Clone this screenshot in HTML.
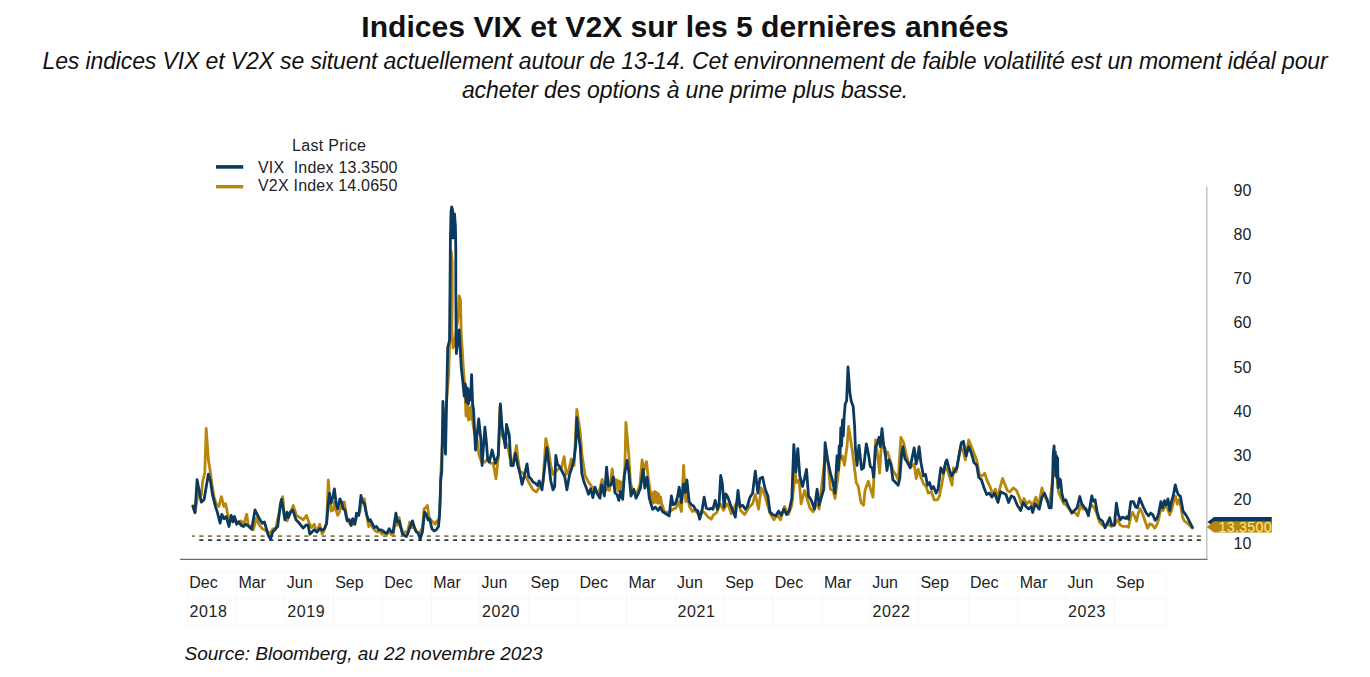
<!DOCTYPE html>
<html><head><meta charset="utf-8"><title>Indices VIX et V2X</title>
<style>
html,body{margin:0;padding:0;background:#fff;}
body{width:1370px;height:677px;position:relative;overflow:hidden;font-family:"Liberation Sans",Arial,sans-serif;color:#111;}
.t{position:absolute;white-space:nowrap;}
#title{left:0;width:1370px;text-align:center;top:8.5px;font-size:30.1px;font-weight:bold;line-height:36px;color:#111;}
.sub{left:0;width:1370px;text-align:center;font-size:23px;letter-spacing:-0.12px;font-style:italic;line-height:29px;color:#111;}
svg{position:absolute;left:0;top:0;}
svg text{font-family:"Liberation Sans",Arial,sans-serif;}
</style></head>
<body>
<div class="t" id="title">Indices VIX et V2X sur les 5 dernières années</div>
<div class="t sub" style="top:47px">Les indices VIX et V2X se situent actuellement autour de 13-14. Cet environnement de faible volatilité est un moment idéal pour</div>
<div class="t sub" style="top:76px">acheter des options à une prime plus basse.</div>
<svg width="1370" height="677" viewBox="0 0 1370 677">
  <!-- legend -->
  <text x="292" y="150.6" font-size="16" fill="#222" letter-spacing="0.3">Last Price</text>
  <line x1="216" y1="166.9" x2="243.2" y2="166.9" stroke="#0b3a5e" stroke-width="3.6"/>
  <line x1="216" y1="186.7" x2="243.2" y2="186.7" stroke="#b8860b" stroke-width="3.4"/>
  <text x="258" y="172.6" font-size="16" fill="#222" letter-spacing="0.2" xml:space="preserve" style="white-space:pre">VIX  Index 13.3500</text>
  <text x="258" y="191.2" font-size="16" fill="#222" letter-spacing="0.2">V2X Index 14.0650</text>
  <g stroke="#f7f7f7" stroke-width="1">
    <line x1="187" y1="572.5" x2="1166" y2="572.5"/>
    <line x1="187" y1="598.5" x2="1166" y2="598.5"/>
    <line x1="187" y1="625.5" x2="1166" y2="625.5"/>
    <line x1="187.4" y1="572.5" x2="187.4" y2="625.5"/>
    <line x1="236.6" y1="572.5" x2="236.6" y2="625.5"/>
    <line x1="285.0" y1="572.5" x2="285.0" y2="625.5"/>
    <line x1="333.4" y1="572.5" x2="333.4" y2="625.5"/>
    <line x1="382.5" y1="572.5" x2="382.5" y2="625.5"/>
    <line x1="431.4" y1="572.5" x2="431.4" y2="625.5"/>
    <line x1="479.8" y1="572.5" x2="479.8" y2="625.5"/>
    <line x1="528.8" y1="572.5" x2="528.8" y2="625.5"/>
    <line x1="577.7" y1="572.5" x2="577.7" y2="625.5"/>
    <line x1="626.6" y1="572.5" x2="626.6" y2="625.5"/>
    <line x1="675.2" y1="572.5" x2="675.2" y2="625.5"/>
    <line x1="723.4" y1="572.5" x2="723.4" y2="625.5"/>
    <line x1="773.0" y1="572.5" x2="773.0" y2="625.5"/>
    <line x1="822.2" y1="572.5" x2="822.2" y2="625.5"/>
    <line x1="870.4" y1="572.5" x2="870.4" y2="625.5"/>
    <line x1="918.6" y1="572.5" x2="918.6" y2="625.5"/>
    <line x1="968.2" y1="572.5" x2="968.2" y2="625.5"/>
    <line x1="1017.9" y1="572.5" x2="1017.9" y2="625.5"/>
    <line x1="1065.8" y1="572.5" x2="1065.8" y2="625.5"/>
    <line x1="1114.2" y1="572.5" x2="1114.2" y2="625.5"/>
    <line x1="1166.0" y1="572.5" x2="1166.0" y2="625.5"/>
  </g>
  <!-- axes -->
  <line x1="1206.8" y1="186.5" x2="1206.8" y2="559" stroke="#c4c4c4" stroke-width="1.5"/>
  <line x1="180" y1="559.3" x2="1207.5" y2="559.3" stroke="#6e6e6e" stroke-width="1.2"/>
  <!-- y labels -->
  <g font-size="16" fill="#222">
    <text x="1233.5" y="196">90</text>
    <text x="1233.5" y="240.2">80</text>
    <text x="1233.5" y="284.3">70</text>
    <text x="1233.5" y="328.4">60</text>
    <text x="1233.5" y="372.5">50</text>
    <text x="1233.5" y="416.6">40</text>
    <text x="1233.5" y="460.7">30</text>
    <text x="1233.5" y="504.8">20</text>
    <text x="1233.5" y="548.9">10</text>
  </g>
  <!-- dashed min lines -->
  <line x1="191.9" y1="536.1" x2="1201" y2="536.1" stroke="#8a7548" stroke-width="1.7" stroke-dasharray="4.1 4.65" stroke-dashoffset="1.35"/>
  <line x1="199.3" y1="540.1" x2="1201" y2="540.1" stroke="#2b3a49" stroke-width="1.9" stroke-dasharray="4.1 4.65"/>
  <!-- series -->
  <polyline fill="none" stroke="#b8860b" stroke-width="2.8" stroke-linejoin="round" stroke-linecap="round" points="192.9,505.7 195.0,512.0 197.5,498.0 199.5,490.0 201.3,495.2 202.7,481.1 204.8,472.7 206.2,428.5 208.4,460.1 210.5,472.7 211.9,484.0 214.0,496.6 216.1,503.6 218.9,506.4 221.4,496.6 223.8,506.4 225.6,503.6 227.3,512.0 229.5,520.9 233.4,517.6 236.7,522.0 241.2,520.9 243.4,525.4 246.7,514.3 248.4,525.4 251.1,526.5 253.3,529.8 256.7,517.6 258.9,524.3 262.2,528.7 264.4,529.8 267.7,532.0 270.0,533.1 273.3,528.7 275.5,529.8 277.1,522.0 282.7,496.6 284.3,514.3 287.1,520.9 289.9,514.3 293.2,505.4 296.5,515.4 299.8,517.6 303.2,519.8 306.5,515.4 308.7,522.0 311.5,527.6 314.2,524.3 316.5,532.0 319.8,524.3 322.2,534.2 324.4,529.8 326.6,523.2 328.3,480.0 329.4,494.4 331.1,511.0 333.3,509.9 334.4,502.1 336.1,509.9 337.7,515.4 339.4,512.1 342.1,503.2 344.4,502.1 346.6,516.5 348.8,522.0 351.0,525.4 353.2,524.3 355.4,520.9 357.6,514.3 359.9,512.1 361.5,502.1 364.3,498.8 366.5,514.3 368.7,526.5 370.4,523.2 372.6,527.6 375.4,530.9 377.6,532.0 379.8,530.9 382.0,534.2 384.2,532.0 386.4,535.3 388.7,530.9 390.9,534.2 393.1,535.3 395.9,516.5 397.5,525.4 399.2,517.6 400.8,526.5 403.1,533.1 405.3,532.0 407.5,532.0 409.7,522.0 411.9,527.6 413.6,525.4 416.4,532.0 418.6,533.1 420.2,532.0 422.4,527.6 424.1,508.8 425.8,507.6 427.4,505.4 429.1,517.6 430.7,519.8 433.0,522.0 435.2,524.3 436.8,520.9 438.5,522.0 439.6,512.1 440.7,492.1 440.5,480.0 442.5,440.0 445.0,420.0 448.7,374.6 450.0,330.0 450.6,270.0 451.3,251.5 452.2,262.0 452.2,300.0 451.8,330.0 453.0,348.0 455.0,340.0 458.3,315.0 459.2,295.8 460.5,300.0 461.2,334.2 462.1,347.7 463.5,370.0 465.0,390.0 466.0,416.0 467.3,404.0 468.4,420.0 469.5,408.0 470.6,419.0 471.6,406.0 473.0,424.0 474.5,433.5 477.0,440.0 479.0,455.0 481.6,462.1 484.9,462.1 488.0,458.0 490.0,463.0 493.2,463.3 496.0,478.8 498.5,455.0 499.8,407.0 501.5,434.3 504.3,440.0 507.6,445.5 510.0,458.0 513.0,462.0 516.5,445.5 517.6,456.6 519.8,471.0 523.1,473.2 526.4,477.7 529.8,484.3 533.1,489.8 536.4,492.0 539.7,486.5 543.1,482.1 545.8,438.7 548.6,450.0 550.8,465.5 553.0,474.3 556.3,471.0 558.6,468.8 561.3,468.8 564.1,456.6 566.3,474.3 569.1,468.8 571.3,458.8 574.1,465.5 576.8,409.3 580.2,432.0 582.0,455.0 585.1,475.4 588.5,482.1 591.8,486.5 594.5,490.0 598.3,493.8 602.2,479.4 604.4,492.6 607.2,488.2 609.4,490.4 612.2,468.8 613.8,484.0 614.8,479.0 615.8,488.0 616.8,480.0 617.8,491.0 618.8,481.0 619.8,490.0 620.8,482.0 621.8,492.0 622.7,486.0 623.8,480.0 624.9,466.1 625.9,422.3 628.8,455.0 630.4,482.7 633.2,491.5 637.1,492.6 639.9,484.9 642.1,460.0 644.3,469.4 646.5,461.6 648.2,477.1 649.5,486.0 650.6,493.0 651.6,502.0 652.6,493.0 653.6,503.0 654.6,491.5 655.6,502.0 656.6,492.5 657.6,503.0 658.6,494.0 659.6,503.0 660.6,497.0 661.6,504.0 662.6,506.0 664.2,511.5 667.0,512.6 670.3,511.5 672.5,509.3 675.8,508.2 678.6,501.5 681.4,511.5 683.6,465.5 685.8,501.5 686.9,496.0 689.7,507.1 692.5,511.5 695.2,510.4 698.0,513.7 701.3,511.5 704.6,512.6 708.0,517.0 711.3,519.2 713.5,514.8 716.8,512.6 720.1,503.7 723.5,510.4 726.8,503.7 729.0,507.1 731.2,513.7 738.0,499.8 740.6,510.5 744.6,514.5 748.6,507.8 752.6,503.8 755.3,494.5 758.6,509.1 761.2,487.9 764.6,494.5 767.2,503.8 769.9,513.1 773.9,519.8 777.2,514.5 780.5,519.8 784.5,506.5 788.5,514.5 791.8,505.2 795.2,473.2 796.5,482.6 799.1,479.9 801.1,503.8 804.5,490.5 807.1,498.5 809.8,507.8 813.1,511.8 816.4,503.8 819.1,509.1 821.8,485.2 825.7,450.6 828.4,466.6 830.4,489.2 833.1,490.5 835.0,498.5 837.7,478.6 839.7,461.3 842.4,456.0 844.4,465.3 847.0,446.6 848.6,426.4 852.3,450.6 854.3,466.6 856.3,482.6 858.3,486.5 861.0,502.5 863.6,505.2 865.0,490.5 868.3,481.2 871.0,490.5 873.0,497.1 875.6,439.9 877.6,454.6 879.6,473.2 881.0,449.3 883.0,442.6 885.0,454.6 887.6,451.9 890.3,461.2 892.9,470.5 895.6,474.5 898.2,479.8 900.9,437.3 903.6,442.6 906.2,454.6 908.9,463.9 911.5,466.5 914.2,463.9 916.2,478.5 918.2,469.2 920.9,477.2 923.5,483.8 926.2,486.5 928.2,493.1 931.5,491.8 934.1,499.8 937.5,499.8 939.5,495.8 942.1,482.5 944.8,466.5 947.5,470.5 950.1,478.5 952.1,485.2 953.4,467.9 956.1,471.9 958.1,461.2 960.7,446.6 963.4,451.9 965.4,459.9 968.7,439.9 971.4,446.6 974.0,453.2 976.7,459.9 979.4,474.5 982.0,475.9 984.7,473.2 987.3,481.2 990.0,486.5 992.7,494.5 995.3,489.1 998.0,497.1 1000.0,487.8 1002.6,478.5 1007.3,490.5 1010.0,491.9 1013.3,487.9 1016.6,490.5 1019.3,497.2 1021.3,503.8 1023.9,498.5 1026.6,503.8 1029.3,501.2 1032.6,505.2 1035.9,497.2 1038.6,505.2 1041.9,487.9 1044.5,495.9 1047.2,501.2 1049.9,502.5 1052.5,479.9 1054.5,470.6 1056.5,473.2 1058.5,491.9 1061.2,498.5 1063.8,503.8 1066.5,505.2 1069.2,509.1 1072.5,511.8 1075.1,513.1 1077.8,515.8 1080.5,505.2 1083.1,509.1 1085.8,509.1 1088.4,510.5 1091.8,505.2 1094.4,507.8 1097.1,514.5 1099.7,522.5 1102.4,525.1 1105.0,526.4 1107.7,523.8 1111.0,526.4 1114.4,525.1 1117.7,519.8 1120.3,525.1 1123.0,526.4 1126.8,526.4 1128.5,527.3 1130.8,516.7 1132.5,512.2 1134.8,516.7 1136.5,521.1 1138.3,513.1 1140.1,508.7 1142.7,514.0 1145.0,521.1 1147.6,528.2 1149.8,523.8 1152.0,524.6 1154.7,528.2 1156.9,524.6 1158.7,519.3 1160.9,507.8 1163.1,510.5 1164.9,505.1 1167.5,508.7 1169.8,514.9 1172.0,508.7 1174.2,498.9 1175.5,496.3 1177.3,504.3 1179.1,499.8 1180.8,506.0 1182.6,517.5 1184.4,521.1 1187.1,522.9 1189.7,525.5 1192.4,528.2"/>
  <polyline fill="none" stroke="#0b3a5e" stroke-width="2.8" stroke-linejoin="round" stroke-linecap="round" points="192.9,506.4 195.0,512.7 197.1,479.7 199.2,491.0 201.3,502.2 204.1,499.4 208.4,474.1 210.5,481.1 212.6,495.2 215.4,506.4 217.3,512.1 220.1,523.2 221.8,514.3 224.0,518.7 226.2,516.5 229.0,526.5 231.2,515.4 232.9,522.0 234.5,516.5 236.7,524.3 238.9,522.0 241.2,525.4 243.4,526.5 245.6,524.3 247.8,525.4 251.7,529.2 255.0,509.9 257.2,514.3 259.4,518.7 262.2,523.2 264.4,522.0 266.1,527.6 268.3,535.3 270.5,539.2 272.7,532.0 275.5,528.7 277.7,526.5 280.5,503.2 281.6,499.3 283.2,508.8 284.9,519.8 287.1,512.1 288.2,517.6 290.4,512.1 292.7,509.9 296.0,519.8 298.2,522.0 301.0,525.4 303.2,528.1 306.5,524.8 308.2,525.4 309.8,534.2 312.0,532.0 314.2,529.8 317.0,532.0 319.8,528.7 322.2,530.4 324.4,528.7 326.6,523.2 328.3,503.2 329.4,493.3 331.1,503.2 332.7,497.7 334.4,488.8 336.1,503.2 337.7,508.8 339.9,498.8 341.6,502.1 343.3,508.8 344.9,509.9 347.1,520.9 349.4,519.8 351.0,525.4 352.7,518.7 354.9,524.3 356.5,513.2 358.8,515.4 361.0,495.5 362.6,502.1 364.3,503.2 366.5,514.3 368.7,520.9 370.4,519.8 372.1,523.2 374.3,527.6 376.5,526.5 378.7,529.8 380.9,529.8 383.1,530.9 385.3,533.1 387.0,533.1 389.2,528.7 391.4,532.0 393.1,532.0 395.9,513.2 397.5,522.0 399.2,520.9 400.8,527.6 402.5,534.2 404.7,535.3 406.4,536.5 408.0,533.1 410.2,526.5 412.5,520.9 414.1,526.5 415.8,530.9 418.0,533.1 420.2,538.7 422.4,532.0 424.6,512.1 426.3,514.3 428.0,519.8 429.6,518.7 431.9,528.7 434.1,530.9 436.3,529.8 438.5,526.5 439.6,514.3 440.7,481.1 441.8,470.0 442.9,401.5 445.5,454.2 447.7,347.7 449.6,340.0 450.0,290.0 450.4,240.0 451.0,212.0 451.7,207.0 452.6,210.0 453.0,238.0 453.6,226.0 454.5,214.0 455.4,226.0 455.8,250.0 455.8,290.0 456.3,353.5 458.3,336.2 459.2,330.0 461.2,366.9 463.2,385.0 464.2,396.0 465.3,384.0 466.3,402.0 467.3,388.0 468.4,404.0 469.5,390.0 470.5,400.0 471.6,374.6 472.6,404.0 473.6,410.0 474.6,432.0 475.5,450.0 478.7,419.0 480.7,437.7 482.1,465.5 484.9,427.1 486.6,444.4 487.7,460.0 489.3,462.1 492.1,450.0 495.4,463.3 498.2,455.5 500.4,403.8 502.1,427.6 505.4,447.7 506.5,424.3 509.3,435.4 510.9,465.5 513.2,465.5 515.4,453.3 517.6,464.4 520.4,475.4 522.0,484.3 524.2,476.5 527.0,463.8 528.7,476.5 530.9,478.8 533.1,482.1 535.3,483.2 537.5,485.4 539.2,481.0 542.0,489.8 544.2,471.0 546.9,447.8 548.6,462.1 550.8,481.0 553.0,489.8 554.7,486.5 555.8,455.5 557.5,464.4 559.7,466.6 561.9,471.0 564.7,476.5 566.9,489.8 569.6,474.3 571.9,467.7 574.1,458.8 575.7,445.5 576.8,417.7 578.5,435.4 580.2,446.6 581.8,473.2 584.0,482.1 586.2,487.6 588.5,494.3 590.7,488.7 592.9,497.6 595.0,487.1 597.2,493.8 600.0,498.2 601.6,484.9 604.4,496.0 606.6,467.2 608.3,486.0 611.1,484.9 613.3,477.1 614.9,492.6 617.1,494.9 618.8,500.4 620.5,491.5 622.7,499.3 624.4,474.9 627.1,460.5 628.8,471.6 631.0,496.0 633.8,489.3 636.0,498.2 638.2,493.8 640.4,488.2 643.2,469.4 644.8,488.2 647.0,477.1 649.3,498.2 652.6,509.3 655.4,507.1 658.1,510.4 660.3,507.1 662.5,511.5 665.9,513.7 669.2,515.9 671.4,496.0 673.1,504.8 675.3,503.7 677.5,497.1 679.2,487.1 681.4,502.6 683.6,483.8 685.2,492.6 686.9,479.9 689.1,501.5 691.4,504.8 693.6,505.9 695.2,509.3 697.4,510.4 699.6,519.2 701.9,511.5 704.1,497.1 706.3,508.2 709.1,509.3 711.3,508.2 712.9,509.3 715.2,500.4 717.4,509.3 719.0,504.8 720.7,475.5 722.4,483.8 724.0,507.1 725.7,493.8 727.9,497.1 730.1,503.7 732.3,509.3 735.3,517.1 738.0,490.5 740.0,506.5 742.6,505.2 745.3,509.1 747.3,506.5 750.0,497.2 752.6,493.2 755.3,471.2 757.9,493.2 759.9,478.6 762.6,477.2 765.2,489.2 767.9,495.9 769.9,511.8 772.5,514.5 775.9,515.8 778.5,511.1 781.2,515.1 783.9,509.1 786.5,514.5 789.2,510.5 791.8,498.5 793.8,444.6 795.8,471.9 797.8,448.6 799.8,475.9 802.5,486.5 804.5,478.6 806.5,469.3 808.5,495.9 811.1,499.8 814.4,509.1 817.1,489.2 819.1,505.2 821.8,495.9 823.8,489.2 825.1,442.7 827.7,459.9 830.4,473.2 832.4,479.9 835.0,493.2 837.0,456.0 838.4,470.0 839.2,446.0 840.0,458.0 840.8,428.0 841.6,446.0 842.5,420.0 843.3,436.0 844.2,416.0 845.2,404.0 846.6,401.0 848.0,367.0 849.9,393.0 851.2,401.0 853.2,406.5 854.6,426.0 855.5,450.0 857.0,465.3 859.0,445.3 861.6,469.3 863.6,467.9 866.3,444.0 866.3,443.9 868.3,453.2 870.3,466.5 872.3,467.9 873.6,477.2 875.6,446.6 877.6,442.6 879.0,437.3 880.3,446.6 882.0,428.6 883.6,445.3 885.0,449.3 886.9,470.5 888.9,459.9 890.9,463.9 892.9,479.8 895.6,482.5 898.2,485.2 899.8,478.5 901.6,454.6 902.9,446.6 904.9,458.6 907.5,462.6 910.2,467.9 912.2,457.2 914.2,447.9 916.2,463.9 917.5,458.6 919.1,446.6 920.9,462.6 923.5,475.9 925.5,474.5 927.5,485.2 929.5,482.5 931.5,489.1 933.5,486.5 936.1,493.1 938.1,489.1 940.8,467.9 943.5,473.2 945.5,462.6 946.8,459.9 948.8,467.9 951.4,475.9 954.1,471.9 956.8,467.9 959.4,453.2 961.4,442.6 963.4,441.3 966.1,455.9 968.7,446.6 971.4,453.2 974.0,462.6 976.7,465.2 978.7,477.2 981.4,479.8 984.0,487.8 986.7,494.5 989.3,493.1 992.0,497.1 994.6,493.1 998.0,502.4 1000.6,491.8 1006.0,494.5 1008.6,502.5 1011.3,495.9 1014.0,497.2 1017.3,505.2 1020.6,510.5 1023.3,502.5 1025.9,506.5 1028.6,509.1 1031.2,506.5 1032.6,512.5 1035.2,503.8 1037.2,506.5 1039.2,509.1 1041.9,497.2 1044.5,493.2 1047.2,499.8 1049.2,507.8 1051.2,507.8 1052.5,483.9 1053.2,454.6 1054.1,446.0 1054.7,468.0 1055.3,452.0 1055.9,476.0 1056.5,456.0 1057.1,478.0 1057.6,458.0 1058.1,487.9 1059.2,478.6 1060.5,479.9 1061.8,493.2 1063.8,501.2 1065.8,499.8 1067.8,505.2 1069.8,509.1 1071.8,513.1 1074.5,510.5 1077.1,507.8 1079.8,496.5 1081.8,503.8 1083.8,506.5 1085.8,509.1 1088.4,515.8 1091.8,495.9 1093.1,501.2 1095.1,499.8 1097.1,511.8 1099.1,518.5 1102.4,521.1 1105.0,527.8 1107.7,522.5 1109.7,517.8 1111.7,525.1 1114.4,525.1 1116.4,503.2 1118.3,514.5 1120.3,519.8 1122.3,517.1 1125.7,518.5 1126.8,516.7 1128.5,519.3 1130.8,501.6 1133.4,501.6 1135.6,506.9 1137.4,507.8 1139.6,498.1 1141.8,503.4 1144.1,508.7 1146.3,513.1 1148.5,515.8 1150.7,513.1 1152.9,514.9 1155.1,520.2 1156.9,518.4 1158.7,513.1 1160.9,501.6 1162.7,507.8 1164.5,500.7 1166.2,505.1 1168.0,498.9 1169.8,510.5 1171.5,501.6 1173.3,495.4 1175.3,484.8 1176.9,491.0 1178.2,494.5 1180.4,496.3 1181.7,503.4 1183.1,511.4 1185.3,514.0 1187.9,518.4 1190.6,523.8 1192.4,527.3"/>
  <!-- last price tags -->
  <polygon points="1207.4,522 1214,517 1271.8,517 1271.8,527 1214,527" fill="#0b3a5e"/>
  <polygon points="1206.6,526.9 1214,521.3 1271.8,521.3 1271.8,532.6 1214,532.6" fill="#b8860b"/>
  <text x="1218.5" y="531.9" font-size="14.3" letter-spacing="0.25" fill="#ffe98a">13.3500</text>
  <!-- x labels -->
  <g font-size="16" fill="#222">
    <text x="189.2" y="588.2">Dec</text>
    <text x="189.6" y="617" letter-spacing="0.6">2018</text>
    <text x="238.4" y="588.2">Mar</text>
    <text x="286.8" y="588.2">Jun</text>
    <text x="287.2" y="617" letter-spacing="0.6">2019</text>
    <text x="335.2" y="588.2">Sep</text>
    <text x="384.3" y="588.2">Dec</text>
    <text x="433.2" y="588.2">Mar</text>
    <text x="481.6" y="588.2">Jun</text>
    <text x="482.0" y="617" letter-spacing="0.6">2020</text>
    <text x="530.6" y="588.2">Sep</text>
    <text x="579.5" y="588.2">Dec</text>
    <text x="628.4" y="588.2">Mar</text>
    <text x="677.0" y="588.2">Jun</text>
    <text x="677.4" y="617" letter-spacing="0.6">2021</text>
    <text x="725.2" y="588.2">Sep</text>
    <text x="774.8" y="588.2">Dec</text>
    <text x="824.0" y="588.2">Mar</text>
    <text x="872.2" y="588.2">Jun</text>
    <text x="872.6" y="617" letter-spacing="0.6">2022</text>
    <text x="920.4" y="588.2">Sep</text>
    <text x="970.0" y="588.2">Dec</text>
    <text x="1019.7" y="588.2">Mar</text>
    <text x="1067.6" y="588.2">Jun</text>
    <text x="1068.0" y="617" letter-spacing="0.6">2023</text>
    <text x="1116.0" y="588.2">Sep</text>
  </g>
  <text x="184.5" y="659.5" font-size="19" font-style="italic" fill="#111">Source: Bloomberg, au 22 novembre 2023</text>
</svg>
</body></html>
